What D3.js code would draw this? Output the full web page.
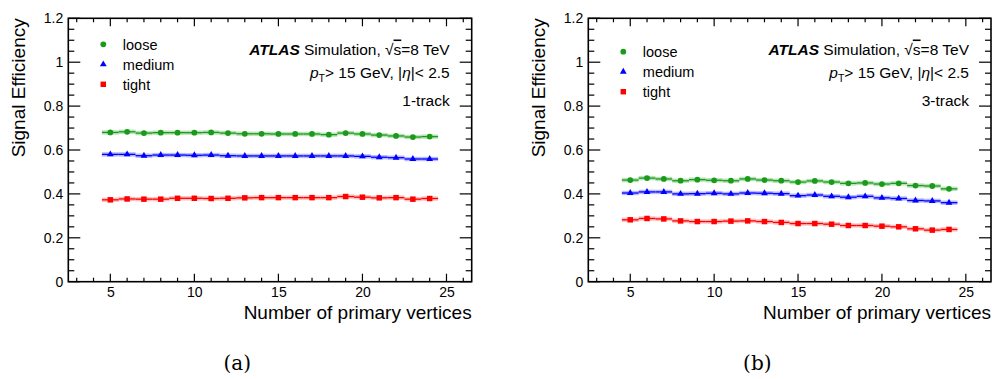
<!DOCTYPE html>
<html>
<head>
<meta charset="utf-8">
<script src="https://cdn.jsdelivr.net/npm/d3@7"></script>
<style>
  html, body { margin: 0; padding: 0; background: #fff; }
  svg { display: block; }
  text { font-family: "Liberation Sans", Arial, sans-serif; fill: #000; }
</style>
</head>
<body>
<svg id="chart" width="992" height="379"></svg>
<script>
// Number of primary vertices (bin centres)
const nvtx = [5, 6, 7, 8, 9, 10, 11, 12, 13, 14, 15, 16, 17, 18, 19, 20, 21, 22, 23, 24];

// 1-track signal efficiency
const loose1 = [0.680, 0.683, 0.677, 0.679, 0.679, 0.679, 0.680, 0.677, 0.674, 0.674,
                0.673, 0.673, 0.673, 0.670, 0.677, 0.673, 0.668, 0.664, 0.659, 0.661];
const medium1 = [0.580, 0.580, 0.574, 0.577, 0.577, 0.576, 0.577, 0.574, 0.573, 0.573,
                 0.573, 0.573, 0.573, 0.573, 0.573, 0.571, 0.567, 0.565, 0.559, 0.559];
const tight1 = [0.373, 0.377, 0.376, 0.376, 0.380, 0.380, 0.379, 0.380, 0.382, 0.383,
                0.383, 0.383, 0.383, 0.383, 0.388, 0.385, 0.382, 0.383, 0.376, 0.379];

// 3-track signal efficiency
const loose3 = [0.463, 0.472, 0.468, 0.460, 0.465, 0.462, 0.460, 0.468, 0.463, 0.460,
                0.454, 0.459, 0.454, 0.448, 0.450, 0.445, 0.448, 0.438, 0.436, 0.423];
const medium3 = [0.404, 0.409, 0.409, 0.400, 0.401, 0.403, 0.400, 0.404, 0.403, 0.401,
                 0.392, 0.395, 0.389, 0.385, 0.389, 0.382, 0.379, 0.370, 0.368, 0.360];
const tight3 = [0.282, 0.288, 0.286, 0.277, 0.274, 0.274, 0.276, 0.277, 0.274, 0.270,
                0.265, 0.265, 0.262, 0.256, 0.256, 0.253, 0.250, 0.241, 0.235, 0.238];

// Axis ranges and tick values
const xDomain = [2.5, 26.5];
const yDomain = [0, 1.2];
const xMajorTicks = [5, 10, 15, 20, 25];
const yMajorTicks = [0, 0.2, 0.4, 0.6, 0.8, 1, 1.2];
const yTickLabels = ["0", "0.2", "0.4", "0.6", "0.8", "1", "1.2"];

const seriesNames = ["loose", "medium", "tight"];
const seriesColors = ["#1a9a1a", "#0000ff", "#ff0000"];
const seriesBands = ["#a8dca8", "#a8a8ff", "#ffb0b0"];
const seriesShapes = [d3.symbolCircle, d3.symbolTriangle, d3.symbolSquare];
const seriesSizes = [26, 20, 30];

const panels = [
  { left: 68.3, top: 18.3, width: 403.4, height: 263.4, series: [loose1, medium1, tight1],
    label: "1-track", caption: "(a)", legendY: 44.3 },
  { left: 588.3, top: 18.3, width: 402.7, height: 263.4, series: [loose3, medium3, tight3],
    label: "3-track", caption: "(b)", legendY: 51.7 }
];

const svg = d3.select("#chart");

panels.forEach(p => {
  const g = svg.append("g");
  const x = d3.scaleLinear().domain(xDomain).range([p.left, p.left + p.width]);
  const y = d3.scaleLinear().domain(yDomain).range([p.top + p.height, p.top]);
  const right = p.left + p.width, bottom = p.top + p.height;

  // minor / major tick positions
  const xMinor = d3.range(3, 27).filter(v => !xMajorTicks.includes(v));
  const yMinor = d3.range(0, 1.2001, 0.05).map(v => +v.toFixed(2)).filter(v => !yMajorTicks.some(m => Math.abs(m - v) < 1e-6));

  // bottom axis labels
  const xAxisB = d3.axisBottom(x).tickValues(xMajorTicks).tickSize(0).tickPadding(5).tickFormat(d3.format("d"));
  const gxb = g.append("g").attr("transform", `translate(0,${bottom})`).call(xAxisB);
  gxb.select(".domain").remove();
  gxb.selectAll("text").style("font-size", "14px").style("font-family", "Liberation Sans, Arial, sans-serif");

  const tickG = g.append("g").attr("stroke", "#000").attr("stroke-width", 1.2);
  xMajorTicks.forEach(v => {
    tickG.append("line").attr("x1", x(v)).attr("x2", x(v)).attr("y1", bottom).attr("y2", bottom - 8);
    tickG.append("line").attr("x1", x(v)).attr("x2", x(v)).attr("y1", p.top).attr("y2", p.top + 8);
  });
  xMinor.forEach(v => {
    tickG.append("line").attr("x1", x(v)).attr("x2", x(v)).attr("y1", bottom).attr("y2", bottom - 4);
    tickG.append("line").attr("x1", x(v)).attr("x2", x(v)).attr("y1", p.top).attr("y2", p.top + 4);
  });

  // left axis labels
  const yAxisL = d3.axisLeft(y).tickValues(yMajorTicks).tickSize(0).tickPadding(5)
    .tickFormat((d, i) => yTickLabels[i]);
  const gyl = g.append("g").attr("transform", `translate(${p.left},0)`).call(yAxisL);
  gyl.select(".domain").remove();
  gyl.selectAll("text").style("font-size", "14px").style("font-family", "Liberation Sans, Arial, sans-serif");

  yMajorTicks.forEach(v => {
    tickG.append("line").attr("x1", p.left).attr("x2", p.left + 12).attr("y1", y(v)).attr("y2", y(v));
    tickG.append("line").attr("x1", right).attr("x2", right - 12).attr("y1", y(v)).attr("y2", y(v));
  });
  yMinor.forEach(v => {
    tickG.append("line").attr("x1", p.left).attr("x2", p.left + 6).attr("y1", y(v)).attr("y2", y(v));
    tickG.append("line").attr("x1", right).attr("x2", right - 6).attr("y1", y(v)).attr("y2", y(v));
  });

  // frame
  g.append("rect").attr("x", p.left).attr("y", p.top).attr("width", p.width).attr("height", p.height)
    .attr("fill", "none").attr("stroke", "#000").attr("stroke-width", 1.6);

  // series: error band, horizontal bin segment, marker
  p.series.forEach((vals, si) => {
    const sg = g.append("g");
    sg.selectAll("rect.band").data(vals).join("rect")
      .attr("x", (d, i) => x(nvtx[i] - 0.5))
      .attr("width", (d, i) => x(nvtx[i] + 0.5) - x(nvtx[i] - 0.5))
      .attr("y", d => y(d) - 2.2).attr("height", 4.4)
      .attr("fill", seriesBands[si]).attr("opacity", 0.8);
    sg.selectAll("line.bin").data(vals).join("line")
      .attr("x1", (d, i) => x(nvtx[i] - 0.5)).attr("x2", (d, i) => x(nvtx[i] + 0.5))
      .attr("y1", d => y(d)).attr("y2", d => y(d))
      .attr("stroke", seriesColors[si]).attr("stroke-width", 1.3);
    sg.selectAll("path.mk").data(vals).join("path")
      .attr("transform", (d, i) => `translate(${x(nvtx[i])},${y(d)})`)
      .attr("d", d3.symbol().type(seriesShapes[si]).size(seriesSizes[si]))
      .attr("fill", seriesColors[si]);
  });

  // legend
  const lx = p.left + 35, tx = p.left + 54.5;
  seriesNames.forEach((name, si) => {
    const ly = p.legendY + si * 20;
    g.append("path").attr("transform", `translate(${lx},${ly})`)
      .attr("d", d3.symbol().type(seriesShapes[si]).size(seriesSizes[si]))
      .attr("fill", seriesColors[si]);
    g.append("text").attr("x", tx).attr("y", ly + 5.2).style("font-size", "14.5px").text(name);
  });

  // ATLAS label block
  const ax = right - 22;
  const t1 = g.append("text").attr("x", ax).attr("y", 54.5).attr("text-anchor", "end").style("font-size", "15.5px");
  t1.append("tspan").attr("font-weight", "bold").attr("font-style", "italic").text("ATLAS");
  t1.append("tspan").text(" Simulation, √");
  t1.append("tspan").style("text-decoration", "overline").text("s");
  t1.append("tspan").text("=8 TeV");

  const t2 = g.append("text").attr("x", ax).attr("y", 78).attr("text-anchor", "end").style("font-size", "15.5px");
  t2.append("tspan").attr("font-style", "italic").text("p");
  t2.append("tspan").attr("dy", 4).style("font-size", "10.5px").text("T");
  t2.append("tspan").attr("dy", -4).text("> 15 GeV, |");
  t2.append("tspan").attr("font-style", "italic").text("η");
  t2.append("tspan").text("|< 2.5");

  g.append("text").attr("x", ax).attr("y", 105.5).attr("text-anchor", "end").style("font-size", "15.5px").text(p.label);

  // axis titles
  g.append("text").attr("x", right).attr("y", 319).attr("text-anchor", "end").style("font-size", "19px")
    .text("Number of primary vertices");
  g.append("text").attr("transform", `translate(${p.left - 43},${p.top}) rotate(-90)`)
    .attr("text-anchor", "end").style("font-size", "19px").text("Signal Efficiency");

  // sub-figure caption
  g.append("text").attr("x", p.left + 169).attr("y", 370).attr("text-anchor", "middle")
    .style("font-family", "DejaVu Serif, Liberation Serif, serif").style("font-size", "20px").text(p.caption);
});
</script>
</body>
</html>
